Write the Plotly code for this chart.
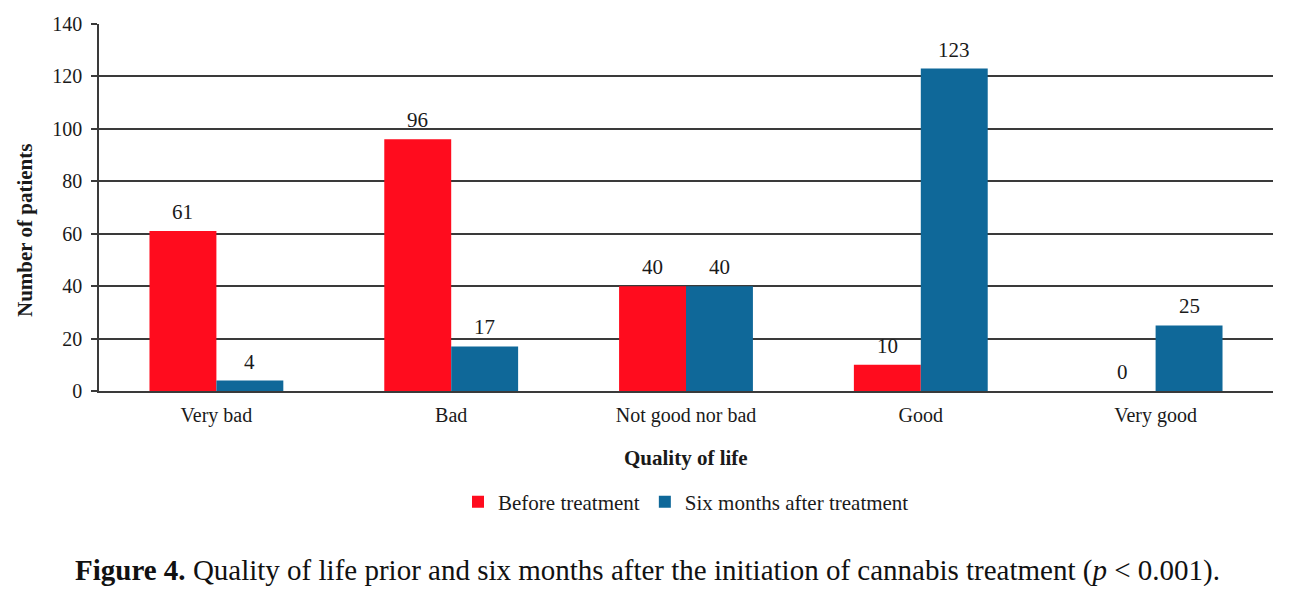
import plotly.graph_objects as go

categories = ["Very bad", "Bad", "Not good nor bad", "Good", "Very good"]
before = [61, 96, 40, 10, 0]
after = [4, 17, 40, 123, 25]
y_ticks = [0, 20, 40, 60, 80, 100, 120, 140]

OFF = 8  # default page body margin
W, H = 1292 - 2 * OFF, 594 - 2 * OFF
# plot area in screen pixels: x 98..1273, y 24..391
L = 99 - OFF
T = 24 - OFF
R = W - (1273 - OFF)
B = H - (391 - OFF)
ph = H - T - B
pw = W - L - R

def py(sy):
    return ((H - B) - (sy - OFF)) / ph

def px_(sx):
    return ((sx - OFF) - L) / pw

font = "Liberation Serif, Times New Roman, serif"
txt = "#1a1a1a"
grid = "#3a3a3a"
BARGAP = 0.43
bar_px = pw / len(categories) * (1 - BARGAP) / 2

fig = go.Figure()
fig.add_trace(go.Bar(x=categories, y=before, name="Before treatment",
                     marker=dict(color="#FF0C1E", line=dict(width=0))))
fig.add_trace(go.Bar(x=categories, y=after, name="Six months after treatment",
                     marker=dict(color="#0F6899", line=dict(width=0))))

annotations = []
for vals, sign in ((before, -1), (after, 1)):
    for c, v in zip(categories, vals):
        annotations.append(dict(x=c, y=v, xref="x", yref="y", text=str(v),
                                showarrow=False, xanchor="center", yanchor="bottom",
                                xshift=sign * bar_px / 2, yshift=5,
                                font=dict(family=font, size=21, color=txt)))

annotations += [
    dict(text="<b>Number of patients</b>", xref="paper", yref="paper",
         x=px_(25), y=py(231), xanchor="center", yanchor="middle", showarrow=False,
         textangle=-90, font=dict(family=font, size=21, color=txt)),
    dict(text="<b>Quality of life</b>", xref="paper", yref="paper",
         x=0.5, y=py(458), xanchor="center", yanchor="middle", showarrow=False,
         font=dict(family=font, size=21, color=txt)),
    dict(text="<b>Figure 4.</b> Quality of life prior and six months after the initiation of cannabis treatment (<i>p</i> < 0.001).",
         xref="paper", yref="paper", x=px_(73), y=py(570), xanchor="left", yanchor="middle",
         showarrow=False, font=dict(family=font, size=29, color="#111")),
]

fig.update_layout(
    width=W, height=H,
    margin=dict(l=L, r=R, t=T, b=B),
    paper_bgcolor="white", plot_bgcolor="white",
    barmode="group", bargap=BARGAP, bargroupgap=0,
    font=dict(family=font, size=20, color=txt),
    showlegend=True,
    legend=dict(orientation="h", x=0.5, xanchor="center", y=py(502), yanchor="middle",
                font=dict(family=font, size=21, color=txt), itemwidth=30,
                traceorder="normal"),
    xaxis=dict(showline=True, linecolor=grid, linewidth=1.5, ticks="",
               ticklabelstandoff=5, automargin=False,
               tickfont=dict(family=font, size=20, color=txt), showgrid=False),
    yaxis=dict(range=[0, 140], tickvals=y_ticks, showgrid=True, gridcolor=grid,
               gridwidth=1.5, showline=True, linecolor=grid, linewidth=1.5,
               ticks="outside", ticklen=6, tickcolor=grid, tickwidth=1.5,
               ticklabelstandoff=5, automargin=False,
               tickfont=dict(family=font, size=20, color=txt), zeroline=False),
    annotations=annotations,
)

fig.write_html("out.html")
